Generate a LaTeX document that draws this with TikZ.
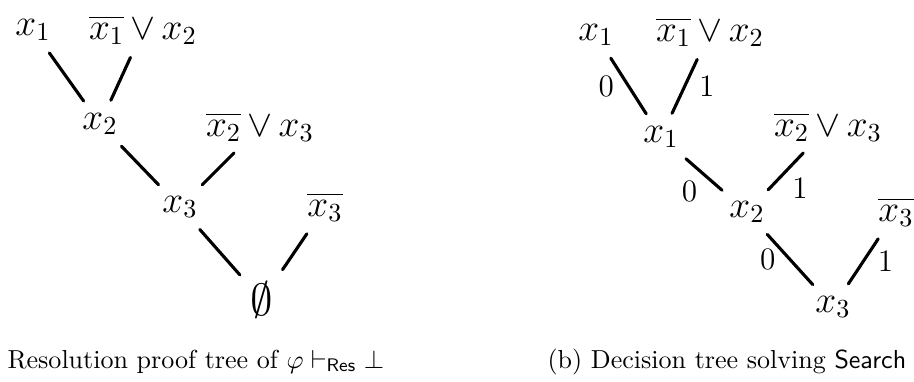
\documentclass[tikz,border=0pt]{standalone}
\usepackage{amsmath,amssymb}
\usetikzlibrary{positioning}
\begin{document}
\begin{tikzpicture}[x=0.0135cm,y=-0.0135cm,
  lit/.style={font=\Large, inner sep=2pt},
  link/.style={very thick, line cap=round, shorten <=3pt, shorten >=3pt},
  bit/.style={font=\large, inner sep=5pt},
  caption/.style={anchor=base west, inner sep=0pt}]
\useasboundingbox (0,0) rectangle (914,381);
% resolution proof tree
\node[lit] (l1) at (33,30) {$x_1$};
\node[lit] (l2) at (143,30) {$\overline{x_1}\,{\vee}\, x_2$};
\node[lit] (l3) at (100,124) {$x_2$};
\node[lit] (l4) at (260,127) {$\overline{x_2}\,{\vee}\, x_3$};
\node[lit] (l5) at (180,207) {$x_3$};
\node[lit] (l6) at (325,207) {$\overline{x_3}$};
\node[lit,font=\LARGE] (l7) at (262,300) {$\emptyset$};
\draw[link] (l1) -- (l3);
\draw[link] (l2) -- (l3);
\draw[link] (l3) -- (l5);
\draw[link] (l4) -- (l5);
\draw[link] (l5) -- (l7);
\draw[link] (l6) -- (l7);
\node[caption] (capa) at (7,368) {Resolution proof tree of $\varphi\vdash_{\mathsf{Res}}\bot$};
% decision tree
\node[lit] (r1) at (596,35) {$x_1$};
\node[lit] (r2) at (710,32) {$\overline{x_1}\,{\vee}\, x_2$};
\node[lit] (r3) at (661,137) {$x_1$};
\node[lit] (r4) at (828,127) {$\overline{x_2}\,{\vee}\, x_3$};
\node[lit] (r5) at (747,212) {$x_2$};
\node[lit] (r6) at (896,212) {$\overline{x_3}$};
\node[lit] (r7) at (833,307) {$x_3$};
\draw[link] (r1) -- node[bit,left] {$0$} (r3);
\draw[link] (r2) -- node[bit,right] {$1$} (r3);
\draw[link] (r3) -- node[bit,below left,inner sep=2pt] {$0$} (r5);
\draw[link] (r4) -- node[bit,below right,inner sep=2pt] {$1$} (r5);
\draw[link] (r5) -- node[bit,left] {$0$} (r7);
\draw[link] (r6) -- node[bit,right] {$1$} (r7);
\node[caption] (capb) at (547,368) {(b) Decision tree solving $\mathsf{Search}$};
\end{tikzpicture}
\end{document}
